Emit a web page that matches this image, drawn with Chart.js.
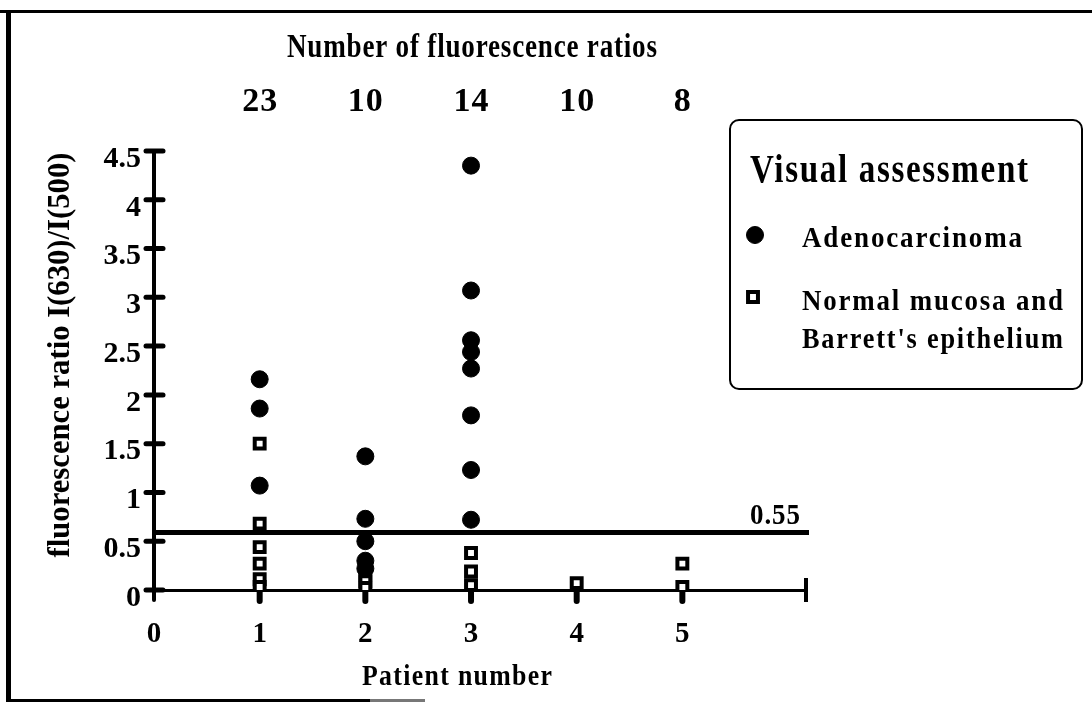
<!DOCTYPE html>
<html>
<head>
<meta charset="utf-8">
<script src="https://cdn.jsdelivr.net/npm/chart.js@4/dist/chart.umd.min.js"></script>
<style>
html,body{margin:0;padding:0;background:#fff;}
#wrap{position:relative;width:1092px;height:704px;overflow:hidden;background:#fff;}
canvas{position:absolute;left:0;top:0;}
</style>
</head>
<body>
<div id="wrap"><canvas id="c" width="1092" height="704"></canvas></div>
<script>
// ---- data ----
const patientTicks = [0, 1, 2, 3, 4, 5];
const countPatients = [1, 2, 3, 4, 5];
const ratioCounts = [23, 10, 14, 10, 8];
const yTickValues = [0, 0.5, 1, 1.5, 2, 2.5, 3, 3.5, 4, 4.5];

const adenoPatient = [1, 1, 1, 2, 2, 2, 2, 2, 3, 3, 3, 3, 3, 3, 3, 3];
const adenoRatio   = [2.16, 1.86, 1.07, 1.37, 0.73, 0.50, 0.30, 0.22, 4.35, 3.07, 2.56, 2.44, 2.27, 1.79, 1.23, 0.72];

const normalPatient = [1, 1, 1, 1, 1, 1, 2, 2, 2, 3, 3, 3, 4, 5, 5];
const normalRatio   = [1.50, 0.68, 0.44, 0.27, 0.11, 0.03, 0.16, 0.09, 0.02, 0.38, 0.19, 0.05, 0.07, 0.27, 0.03];

const thresholdLabel = '0.55';
const thresholdDrawnAt = 0.59;   // where the line sits on the printed axis
const xMax = 6.17;

const topTitle = 'Number of fluorescence ratios';
const xTitle = 'Patient number';
const yTitle = 'fluorescence ratio I(630)/I(500)';
const legendTitle = 'Visual assessment';
const legendAdeno = 'Adenocarcinoma';
const legendNormal = ['Normal mucosa and', "Barrett's epithelium"];

const FONT = '"Liberation Serif", "Times New Roman", serif';

function pts(xs, ys) { return xs.map((x, i) => ({ x: x, y: ys[i] })); }

function drawText(ctx, text, x, y, o) {
  ctx.save();
  ctx.font = 'bold ' + o.size + 'px ' + FONT;
  const sp = o.spacing || 0;
  ctx.letterSpacing = sp + 'px';
  ctx.fillStyle = o.color || '#000';
  ctx.textBaseline = 'alphabetic';
  ctx.textAlign = 'left';
  let w = ctx.measureText(text).width - sp;
  const sx = o.width ? o.width / w : 1;
  ctx.translate(x, y);
  if (o.rotate) ctx.rotate(o.rotate);
  ctx.scale(sx, 1);
  const x0 = o.align === 'center' ? -w / 2 : (o.align === 'right' ? -w : 0);
  ctx.fillText(text, x0, 0);
  ctx.restore();
}

const adenoStyle = { pointStyle: 'circle', radius: 8.5, backgroundColor: '#000', borderColor: '#000', borderWidth: 1 };
const normalStyle = { pointStyle: 'rect', radius: 7, backgroundColor: '#fff', borderColor: '#000', borderWidth: 4 };

function legendPoint(ctx, st, x, y) {
  ctx.save();
  ctx.fillStyle = st.backgroundColor;
  ctx.strokeStyle = st.borderColor;
  ctx.lineWidth = st.borderWidth;
  Chart.helpers.drawPoint(ctx, { pointStyle: st.pointStyle, radius: st.radius, borderWidth: st.borderWidth }, x, y);
  ctx.restore();
}

const decor = {
  id: 'decor',
  beforeDraw(chart) {
    const ctx = chart.ctx;
    ctx.save();
    ctx.fillStyle = '#fff';
    ctx.fillRect(0, 0, chart.width, chart.height);
    // page frame
    ctx.fillStyle = '#000';
    ctx.fillRect(0, 10, 1092, 3);
    ctx.fillRect(6, 10, 5, 692);
    ctx.fillRect(6, 699, 364, 3);
    ctx.fillStyle = '#777';
    ctx.fillRect(370, 699, 55, 3);
    ctx.restore();
  },
  beforeDatasetsDraw(chart) {
    const ctx = chart.ctx;
    const xs = chart.scales.x, ys = chart.scales.y;
    ctx.save();
    ctx.strokeStyle = '#000';
    // threshold line
    const ty = ys.getPixelForValue(thresholdDrawnAt);
    ctx.lineWidth = 5;
    ctx.beginPath();
    ctx.moveTo(xs.getPixelForValue(0), ty);
    ctx.lineTo(xs.getPixelForValue(xMax) + 3, ty);
    ctx.stroke();
    // y tick marks crossing the axis
    ctx.lineCap = 'round';
    ctx.lineWidth = 5;
    const x0 = xs.getPixelForValue(0);
    yTickValues.forEach(v => {
      const y = ys.getPixelForValue(v);
      ctx.beginPath();
      ctx.moveTo(x0 - 8, y);
      ctx.lineTo(x0 + 9, y);
      ctx.stroke();
    });
    // x tick marks
    const y0 = ys.getPixelForValue(0);
    ctx.lineWidth = 6;
    countPatients.forEach(p => {
      const x = xs.getPixelForValue(p);
      ctx.beginPath();
      ctx.moveTo(x, y0);
      ctx.lineTo(x, y0 + 11);
      ctx.stroke();
    });
    ctx.lineWidth = 4;
    ctx.beginPath();
    ctx.moveTo(x0, y0 - 8);
    ctx.lineTo(x0, y0 + 10);
    ctx.stroke();
    const xe = xs.getPixelForValue(xMax);
    ctx.lineCap = 'butt';
    ctx.beginPath();
    ctx.moveTo(xe, y0 - 12);
    ctx.lineTo(xe, y0 + 12);
    ctx.stroke();
    ctx.restore();
  },
  afterDraw(chart) {
    const ctx = chart.ctx;
    const xs = chart.scales.x, ys = chart.scales.y;
    // top heading and counts
    drawText(ctx, topTitle, 472, 57, { size: 34, align: 'center', width: 370, spacing: 1 });
    countPatients.forEach((p, i) => {
      drawText(ctx, String(ratioCounts[i]), xs.getPixelForValue(p), 111, { size: 34, align: 'center', spacing: 1 });
    });
    // threshold label
    drawText(ctx, thresholdLabel, xs.getPixelForValue(xMax) - 6, ys.getPixelForValue(thresholdDrawnAt) - 8, { size: 29, align: 'right', width: 50, spacing: 1 });
    // axis titles
    drawText(ctx, xTitle, 457, 685, { size: 29, align: 'center', width: 190, spacing: 1.5 });
    drawText(ctx, yTitle, 69, 355, { size: 31, align: 'center', width: 405, rotate: -Math.PI / 2 });
    // legend box
    ctx.save();
    ctx.strokeStyle = '#000';
    ctx.lineWidth = 2;
    ctx.beginPath();
    ctx.roundRect(730, 120, 352, 269, 9);
    ctx.stroke();
    ctx.restore();
    drawText(ctx, legendTitle, 750, 182, { size: 40, align: 'left', width: 278, spacing: 2 });
    legendPoint(ctx, adenoStyle, 755, 235);
    legendPoint(ctx, normalStyle, 753, 297);
    drawText(ctx, legendAdeno, 802, 247, { size: 29, align: 'left', width: 220, spacing: 2 });
    drawText(ctx, legendNormal[0], 802, 310, { size: 29, align: 'left', width: 261, spacing: 2 });
    drawText(ctx, legendNormal[1], 802, 348, { size: 29, align: 'left', width: 261, spacing: 2 });
  }
};

new Chart(document.getElementById('c'), {
  type: 'scatter',
  data: {
    datasets: [
      {
        label: legendAdeno, data: pts(adenoPatient, adenoRatio),
        pointStyle: adenoStyle.pointStyle, pointRadius: adenoStyle.radius,
        pointBackgroundColor: adenoStyle.backgroundColor, pointBorderColor: adenoStyle.borderColor,
        pointBorderWidth: adenoStyle.borderWidth, pointHoverRadius: adenoStyle.radius
      },
      {
        label: legendNormal.join(' '), data: pts(normalPatient, normalRatio),
        pointStyle: normalStyle.pointStyle, pointRadius: normalStyle.radius,
        pointBackgroundColor: normalStyle.backgroundColor, pointBorderColor: normalStyle.borderColor,
        pointBorderWidth: normalStyle.borderWidth, pointHoverRadius: normalStyle.radius
      }
    ]
  },
  options: {
    responsive: false,
    animation: false,
    devicePixelRatio: 1,
    events: [],
    layout: { padding: { left: 0, top: 151, right: 286, bottom: 0 } },
    plugins: { legend: { display: false }, tooltip: { enabled: false }, title: { display: false } },
    scales: {
      x: {
        type: 'linear', position: 'bottom', min: 0, max: xMax,
        afterBuildTicks: s => { s.ticks = patientTicks.map(v => ({ value: v })); },
        afterFit: s => { s.height = 114; },
        grid: { display: false, drawTicks: false },
        border: { display: true, color: '#000', width: 3 },
        ticks: { color: '#000', padding: 27, maxRotation: 0, autoSkip: false,
                 font: { family: FONT, size: 29, weight: 'bold' }, callback: v => String(v) }
      },
      y: {
        type: 'linear', position: 'left', min: 0, max: 4.5,
        afterBuildTicks: s => { s.ticks = yTickValues.map(v => ({ value: v })); },
        afterFit: s => { s.width = 154; },
        grid: { display: false, drawTicks: false },
        border: { display: true, color: '#000', width: 4 },
        ticks: { color: '#000', padding: 13, labelOffset: 8, autoSkip: false,
                 font: { family: FONT, size: 30, weight: 'bold' }, callback: v => String(v) }
      }
    }
  },
  plugins: [decor]
});
</script>
</body>
</html>
